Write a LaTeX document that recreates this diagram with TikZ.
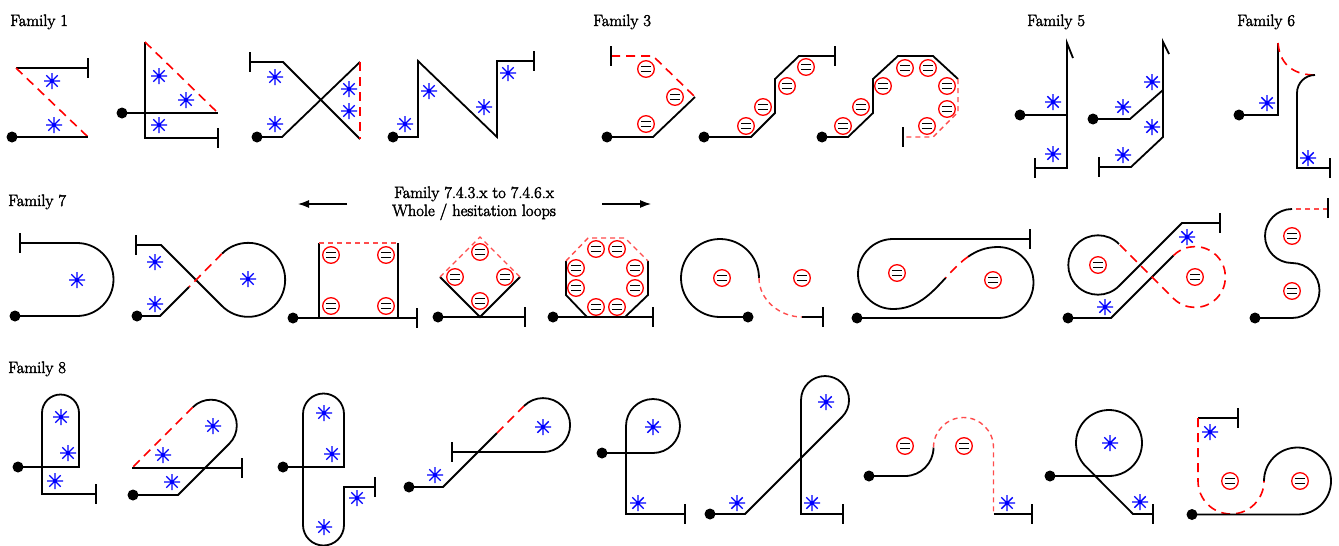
\documentclass[tikz,border=0pt]{standalone}
\usepackage{fontspec}
\newfontfamily\lblfont{Latin Modern Roman}[FakeBold=2.5]
\usetikzlibrary{arrows.meta}
\begin{document}
\begin{tikzpicture}[x=1pt,y=-1pt,
  trk/.style={line width=1.8pt, black},
  rd/.style={red, line width=1.6pt, dash pattern=on 9pt off 6pt},
  rdl/.style={red!70, line width=1.4pt, dash pattern=on 5pt off 4pt},
  lbl/.style={font=\lblfont\fontsize{16.5}{20}\selectfont, anchor=base west, inner sep=0pt},
  mid/.style={font=\lblfont\fontsize{16.5}{20}\selectfont, anchor=base, inner sep=0pt},
  ast/.pic={\draw[blue,line width=1.4pt] (-8,0)--(8,0) (0,-8)--(0,8) (-5.7,-5.7)--(5.7,5.7) (-5.7,5.7)--(5.7,-5.7);},
  coin/.pic={\draw[red,line width=1.3pt,fill=white] (0,0) circle[radius=8.3];
             \draw[line width=1.5pt] (-4.8,-2.3)--(4.8,-2.3) (-4.8,2.3)--(4.8,2.3);},
  endbar/.pic={\draw[line width=1.8pt] (0,-10)--(0,10);}]
\useasboundingbox (0,0) rectangle (1339,546);

% ---------- labels ----------
\node[lbl] (fam1) at (10,26) {Family 1};
\node[lbl] (fam3) at (593,26) {Family 3};
\node[lbl] (fam5) at (1027,26) {Family 5};
\node[lbl] (fam6) at (1237,26) {Family 6};
\node[lbl] (fam7) at (8,206) {Family 7};
\node[lbl] (fam8) at (8,373) {Family 8};
\node[mid] (rng) at (474,198) {Family 7.4.3.x to 7.4.6.x};
\node[mid] (loops) at (474,216) {Whole / hesitation loops};
\coordinate (la) at (347,204); \coordinate (lb) at (298,204);
\coordinate (ra) at (602,204); \coordinate (rb) at (651,204);
\draw[line width=1.2pt,-{Latex[length=11pt,width=8pt]}] (la) -- (lb);
\draw[line width=1.2pt,-{Latex[length=11pt,width=8pt]}] (ra) -- (rb);

% ---------- Family 1 ----------
\draw[trk] (16,68) -- (88,68);
\draw[rd] (16,68) -- (88,137);
\draw[trk] (12,137) -- (88,137);
\draw[trk] (145,42) -- (145,138) -- (218,138);
\draw[trk] (122,113) -- (218,113);
\draw[rd] (145,42) -- (218,113);
\draw[trk] (250,62) -- (283,62) -- (360,139);
\draw[trk] (257,137) -- (282,137) -- (360,62);
\draw[rd] (360,62) -- (360,139);
\draw[trk] (393,137) -- (418,137) -- (418,61) -- (497,137) -- (497,61) -- (534,61);
\foreach \p in {(88,68),(218,138),(250,62),(534,61)} \pic at \p {endbar};
\foreach \p in {(52,81),(54,125),(159,76),(186,100),(159,125),(275,77),(275,124),(349,89),(349,111),
                (405,124),(429,91),(484,107),(508,73)} \pic at \p {ast};

% ---------- Family 3 ----------
\draw[rd] (611,56) -- (653,56) -- (695,97);
\draw[trk] (695,97) -- (653,137) -- (607,137);
\draw[trk] (704,137) -- (751,137) -- (775,113) -- (775,79) -- (799,56) -- (835,56);
\draw[trk] (822,137) -- (848,137) -- (873,113) -- (873,79) -- (898,56) -- (933,56) -- (958,79);
\draw[rdl] (958,79) -- (958,112) -- (933,137) -- (903,137);
\foreach \p in {(611,56),(835,56),(903,137)} \pic at \p {endbar};
\foreach \p in {(646,69),(675,97),(646,124),(746,126),(763,107),(787,86),(806,67),
                (843,126),(861,107),(883,86),(905,68),(928,68),(947,86),(947,109),(927,126)} \pic at \p {coin};

% ---------- Family 5 ----------
\draw[trk] (1073,58) -- (1067,43) -- (1067,168) -- (1035,168);
\draw[trk] (1020,115) -- (1067,115);
\draw[trk] (1169,54) -- (1163,42) -- (1163,137) -- (1131,167) -- (1099,167);
\draw[trk] (1093,119) -- (1130,119) -- (1163,90);
\foreach \p in {(1035,168),(1099,167)} \pic at \p {endbar};
\foreach \p in {(1053,102),(1053,154),(1152,82),(1123,107),(1152,127),(1123,155)} \pic at \p {ast};

% ---------- Family 6 ----------
\draw[trk] (1239,115) -- (1278,115) -- (1278,43);
\draw[rd] (1278,43) .. controls (1280,68) and (1298,75) .. (1315,75);
\draw[trk] (1315,75) arc[start angle=-90, end angle=-180, radius=18] -- (1297,168) -- (1330,168);
\pic at (1330,168) {endbar};
\foreach \p in {(1267,103),(1308,158)} \pic at \p {ast};

% ---------- Family 7 ----------
\draw[trk] (20,243) -- (77,243) arc[start angle=-90, end angle=90, radius=36.5] -- (15,316);
\draw[trk] (136,245) -- (161,245) -- (222,306) arc[start angle=135, end angle=-135, radius=37];
\draw[rd] (221.8,253.8) -- (189,287);
\draw[trk] (189,287) -- (160,316) -- (137,316);
% square
\draw[trk] (293,318) -- (417,318);
\draw[trk] (319,318) -- (319,243);
\draw[trk] (398,318) -- (398,243);
\draw[rdl] (319,243) -- (398,243);
% diamond
\draw[trk] (438,317) -- (525,317);
\draw[trk] (440,277) -- (480,317) -- (520,277);
\draw[rdl] (440,277) -- (480,237) -- (520,277);
% octagon
\draw[trk] (553,317) -- (653,317);
\draw[trk] (648,261) -- (648,295) -- (625,317);
\draw[trk] (587,317) -- (566,295) -- (566,261);
\draw[rdl] (566,261) -- (588,238) -- (625,238) -- (648,261);
% open loop
\draw[trk] (748,317) -- (720,317) arc[start angle=90, end angle=360, radius=39];
\draw[rdl] (759,278) .. controls (759,300) and (780,317) .. (802,317);
\draw[trk] (802,317) -- (823,317);
% long S loop
\draw[trk] (857,318) -- (998,318) arc[start angle=90, end angle=-90, radius=35.5]
  .. controls (986,247) and (976.4,250.9) .. (968.1,256.7);
\draw[rd] (968.1,256.7) .. controls (959.75,262.5) and (952.6,270.25) .. (945.5,278);
\draw[trk] (945.5,278) .. controls (931.25,293.5) and (917,309) .. (893,309)
  arc[start angle=90, end angle=270, radius=35] -- (1030,239);
% crossed double loop
\draw[trk] (1068,318) -- (1111,318) -- (1173.5,255.5);
\draw[rd] (1173.5,255.5) arc[start angle=-135, end angle=135, radius=30.4] -- (1119,244);
\draw[trk] (1119,244) arc[start angle=-45, end angle=-315, radius=29.7] -- (1182,223) -- (1220,223);
% S
\draw[rdl] (1328,209) -- (1292,209);
\draw[trk] (1292,209) arc[start angle=-90, end angle=-270, radius=27]
  arc[start angle=-90, end angle=90, radius=27.5] -- (1255,318);
\foreach \p in {(20,243),(136,245),(417,318),(525,317),(653,317),(823,317),(1030,239),(1220,223),(1328,208)} \pic at \p {endbar};
\foreach \p in {(77,280),(155,262),(155,304),(248,279),(1187,237),(1105,307)} \pic at \p {ast};
\foreach \p in {(331,255),(386,255),(331,306),(386,306),(480,252),(455,277),(505,277),(480,301),
                (596,249),(617,249),(576,268),(576,288),(635,268),(635,288),(596,307),(617,307),
                (722,278),(802,278),(897,273),(993,280),(1098,265),(1195,277),(1292,236),(1292,291)} \pic at \p {coin};

% ---------- Family 8 ----------
\draw[trk] (18,467) -- (79,467) -- (79,413) arc[start angle=0, end angle=-180, radius=18.5] -- (42,494) -- (96,494);
\draw[trk] (133,495) -- (178,495) -- (229.25,443.75) arc[start angle=45, end angle=-135, radius=25.8];
\draw[rd] (192.75,407.25) -- (132,468);
\draw[trk] (132,468) -- (242,468);
\draw[trk] (283,467) -- (344,467) -- (344,414) arc[start angle=0, end angle=-180, radius=20.5] -- (303,525)
  arc[start angle=180, end angle=0, radius=20.5] -- (344,487) -- (375,487);
\draw[trk] (409,487) -- (443,487) -- (497,433);
\draw[rd] (497,433) -- (524,406);
\draw[trk] (524,406) arc[start angle=-135, end angle=90, radius=27] -- (452,452);
\draw[trk] (602,453) -- (653,453) arc[start angle=90, end angle=-180, radius=27] -- (626,514) -- (685,514);
\draw[trk] (710,514) -- (745,514) -- (842,417) arc[start angle=45, end angle=-180, radius=24] -- (801,514) -- (843,514);
\draw[trk] (869,476) -- (905,476) arc[start angle=90, end angle=0, radius=28.5];
\draw[rdl] (933.5,447.5) arc[start angle=180, end angle=360, radius=30] -- (993.5,514);
\draw[trk] (993.5,514) -- (1032,514);
\draw[trk] (1050,476) -- (1109,476) arc[start angle=90, end angle=-225, radius=33] -- (1133,514) -- (1153,514);
\draw[trk] (1198,418) -- (1238,418);
\draw[rd] (1198,418) -- (1198,481) arc[start angle=180, end angle=0, radius=33];
\draw[trk] (1264,481) arc[start angle=180, end angle=450, radius=33.5] -- (1192,514.5);
\foreach \p in {(96,494),(242,468),(375,487),(452,452),(685,514),(843,514),(1032,514),(1153,514),(1238,418)} \pic at \p {endbar};
\foreach \p in {(61,417),(68,453),(55,481),(213,426),(163,455),(172,482),(324,413),(332,454),(357,498),(324,527),
                (543,427),(435,475),(653,427),(638,503),(826,402),(737,503),(812,503),(1007,503),
                (1110,443),(1140,502),(1210,432)} \pic at \p {ast};
\foreach \p in {(905,446),(964,446),(1230,481),(1300,481)} \pic at \p {coin};

% ---------- start dots ----------
\foreach \p in {(12,137),(122,113),(257,137),(393,137),(607,137),(704,137),(822,137),(1020,115),(1093,119),(1239,115),
                (15,316),(137,316),(293,318),(438,317),(553,317),(748,317),(857,318),(1068,318),(1255,318),
                (18,467),(133,495),(283,467),(409,487),(602,453),(710,514),(869,476),(1050,476),(1192,514.5)}
  \fill \p circle[radius=5.5];
\end{tikzpicture}
\end{document}
